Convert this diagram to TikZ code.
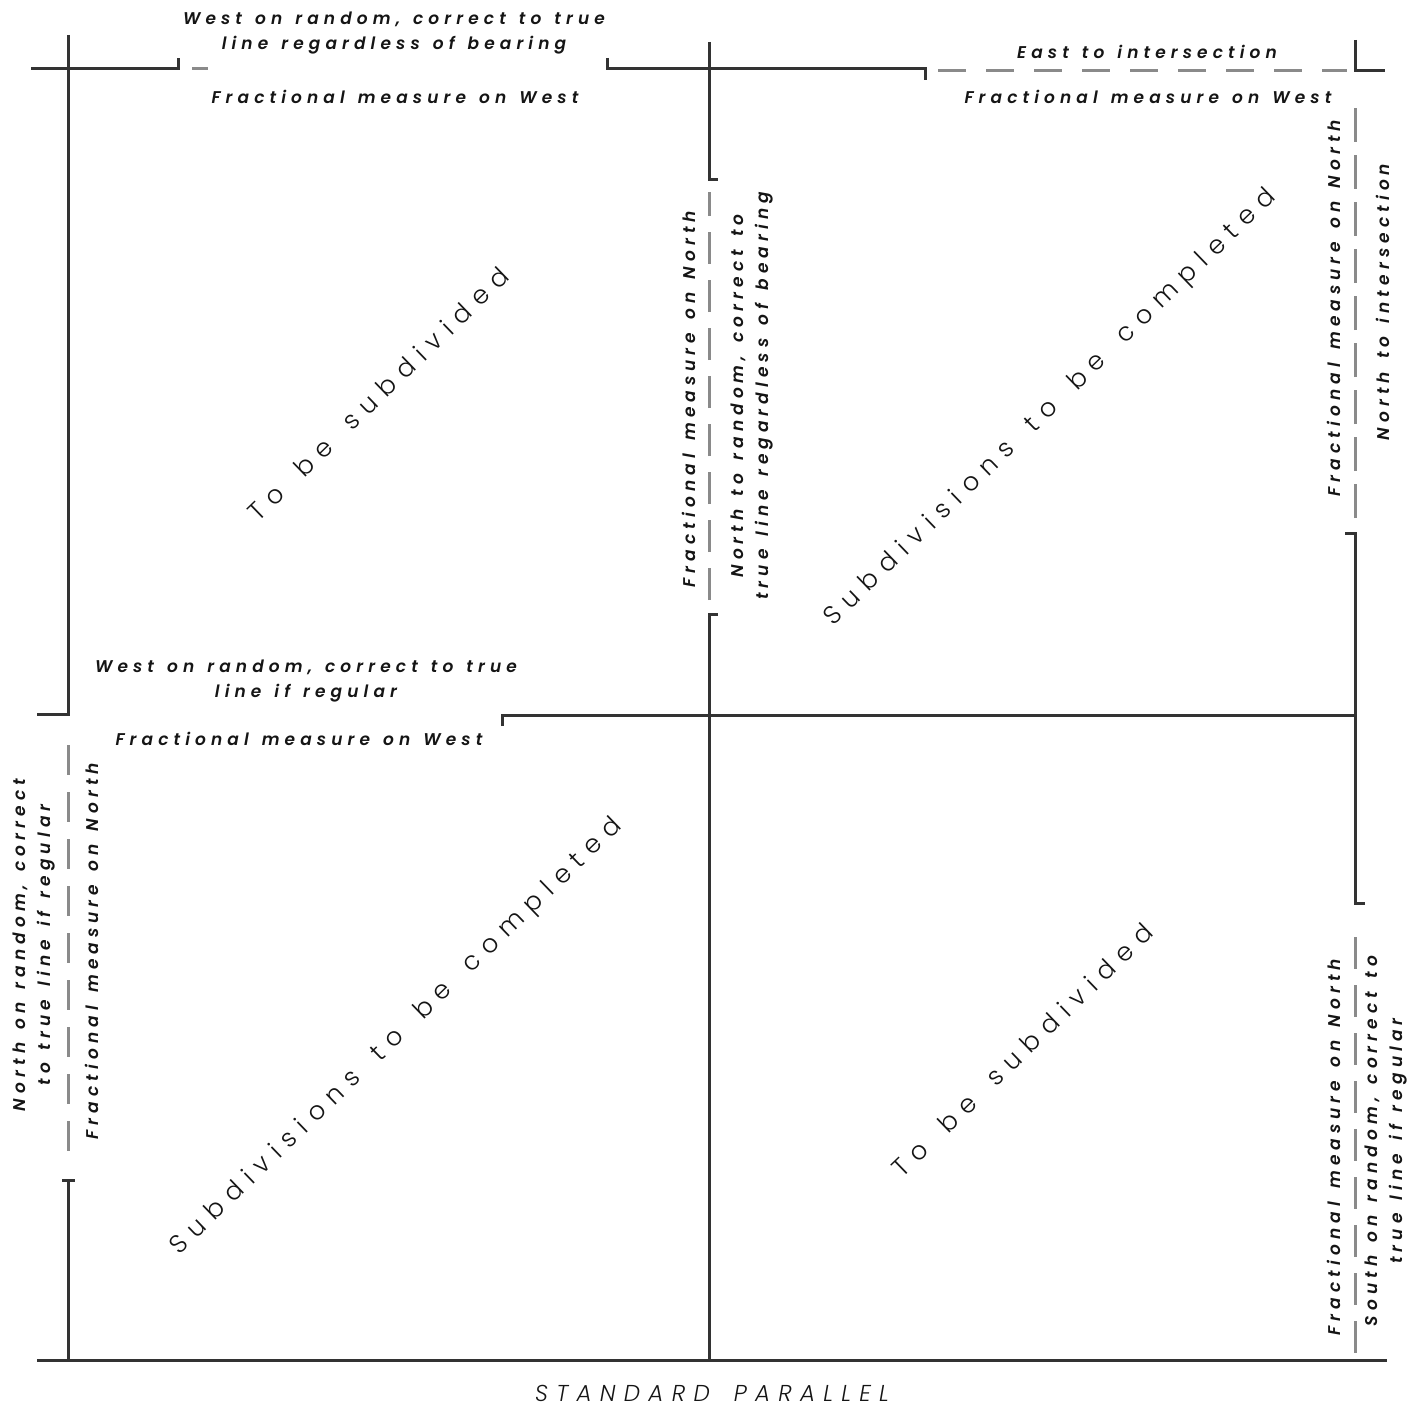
\documentclass[tikz,border=0pt]{standalone}
\usepackage{fontspec}
\newfontfamily\labfont{Poppins SemiBold Italic}[LetterSpace=30, WordSpace=1.35]
\newfontfamily\thinfont{Poppins Light}[LetterSpace=35, WordSpace=1.6]
\newfontfamily\spfont{Poppins Light Italic}[LetterSpace=36, WordSpace=1.6]
\definecolor{lineDark}{HTML}{333333}
\definecolor{lineGray}{HTML}{8A8A8A}
\definecolor{txt}{HTML}{151515}
\tikzset{
  solidline/.style={draw=lineDark, line width=3pt},
  dashline/.style={draw=lineGray, line width=3pt, dash pattern=on 30pt off 17pt},
  lab/.style={inner sep=0pt, align=center, text=txt, font=\labfont\fontsize{17}{25}\selectfont},
  vlab/.style={lab, rotate=90},
  diag/.style={inner sep=0pt, text=txt, rotate=44, font=\thinfont\fontsize{25.5}{30}\selectfont},
}
\begin{document}
\begin{tikzpicture}[x=1pt,y=-1pt]
\useasboundingbox (0,0) rectangle (1409,1407);
% named points
\coordinate (tlv1) at (68,35);
\coordinate (tlv2) at (68,714);
\coordinate (tlh0) at (37,714);
\coordinate (th1) at (31,69);
\coordinate (th2) at (178,69);
\coordinate (th3) at (178,58);
\coordinate (gd1) at (192,69);
\coordinate (gd2) at (208,69);
\coordinate (tm0) at (607,58);
\coordinate (tm1) at (607,69);
\coordinate (tm2) at (925,69);
\coordinate (tm3) at (925,80);
\coordinate (mv1) at (709,42);
\coordinate (mv2) at (709,180);
\coordinate (mv3) at (718,180);
\coordinate (md1) at (709,600);
\coordinate (md2) at (709,192);
\coordinate (mb0) at (718,614);
\coordinate (mb1) at (709,614);
\coordinate (mb2) at (709,1360);
\coordinate (td1) at (938,71);
\coordinate (td2) at (1347,71);
\coordinate (tr0) at (1355,40);
\coordinate (tr1) at (1355,71);
\coordinate (tr2) at (1385,71);
\coordinate (rd1) at (1355,518);
\coordinate (rd2) at (1355,97);
\coordinate (rm0) at (1345,533);
\coordinate (rm1) at (1355,533);
\coordinate (rm2) at (1355,903);
\coordinate (rm3) at (1365,903);
\coordinate (rb1) at (1355,937);
\coordinate (rb2) at (1355,1355);
\coordinate (ch0) at (502,726);
\coordinate (ch1) at (502,715);
\coordinate (ch2) at (1355,715);
\coordinate (ld1) at (68,1165);
\coordinate (ld2) at (68,745);
\coordinate (lt1) at (62,1180);
\coordinate (lt2) at (75,1180);
\coordinate (lb1) at (68,1180);
\coordinate (lb2) at (68,1360);
\coordinate (bl) at (37,1360);
\coordinate (br) at (1387,1360);

% solid lines
\draw[solidline] (tlv1) -- (tlv2) -- (tlh0);
\draw[solidline] (th1) -- (th2) -- (th3);
\draw[solidline] (tm0) -- (tm1) -- (tm2) -- (tm3);
\draw[solidline] (mv1) -- (mv2) -- (mv3);
\draw[solidline] (mb0) -- (mb1) -- (mb2);
\draw[solidline] (tr0) -- (tr1) -- (tr2);
\draw[solidline] (rm0) -- (rm1) -- (rm2) -- (rm3);
\draw[solidline] (ch0) -- (ch1) -- (ch2);
\draw[solidline] (lt1) -- (lt2);
\draw[solidline] (lb1) -- (lb2);
\draw[solidline] (bl) -- (br);
% dashed lines
\draw[dashline, dash pattern=on 16pt off 10pt] (gd1) -- (gd2);
\draw[dashline, dash pattern=on 32pt off 16pt] (md1) -- (md2);
\draw[dashline, dash pattern=on 28pt off 20pt] (td1) -- (td2);
\draw[dashline, dash pattern=on 34pt off 13pt] (rd1) -- (rd2);
\draw[dashline, dash pattern=on 32pt off 16pt] (rb1) -- (rb2);
\draw[dashline, dash pattern=on 30pt off 17pt] (ld2) -- (ld1);

% labels
\node[lab] (t1) at (394,33) {West on random, correct to true\\line regardless of bearing};
\node[lab] (t2) at (395,97) {Fractional measure on West};
\node[lab] (t3) at (1147,52) {East to intersection};
\node[lab] (t4) at (1148,97) {Fractional measure on West};
\node[vlab] (t5) at (689,399) {Fractional measure on North};
\node[vlab] (t6) at (752,396) {North to random, correct to\\true line regardless of bearing};
\node[vlab] (t7) at (1334,308) {Fractional measure on North};
\node[vlab] (t8) at (1383,302) {North to intersection};
\node[lab] (t9) at (306,681) {West on random, correct to true\\line if regular};
\node[lab] (t10) at (299,739) {Fractional measure on West};
\node[vlab] (t11) at (34,945) {North on random, correct\\to true line if regular};
\node[vlab] (t12) at (92,951) {Fractional measure on North};
\node[vlab] (t13) at (1334,1147) {Fractional measure on North};
\node[vlab] (t14) at (1386,1141) {South on random, correct to\\true line if regular};

\node[diag] (d1) at (378,394) {To be subdivided};
\node[diag] (d2) at (1051,408) {Subdivisions to be completed};
\node[diag] (d3) at (397,1037) {Subdivisions to be completed};
\node[diag] (d4) at (1022,1050) {To be subdivided};

\node[inner sep=0pt, text=txt, font=\spfont\fontsize{23}{28}\selectfont] (sp) at (712,1393) {STANDARD PARALLEL};
\end{tikzpicture}
\end{document}
